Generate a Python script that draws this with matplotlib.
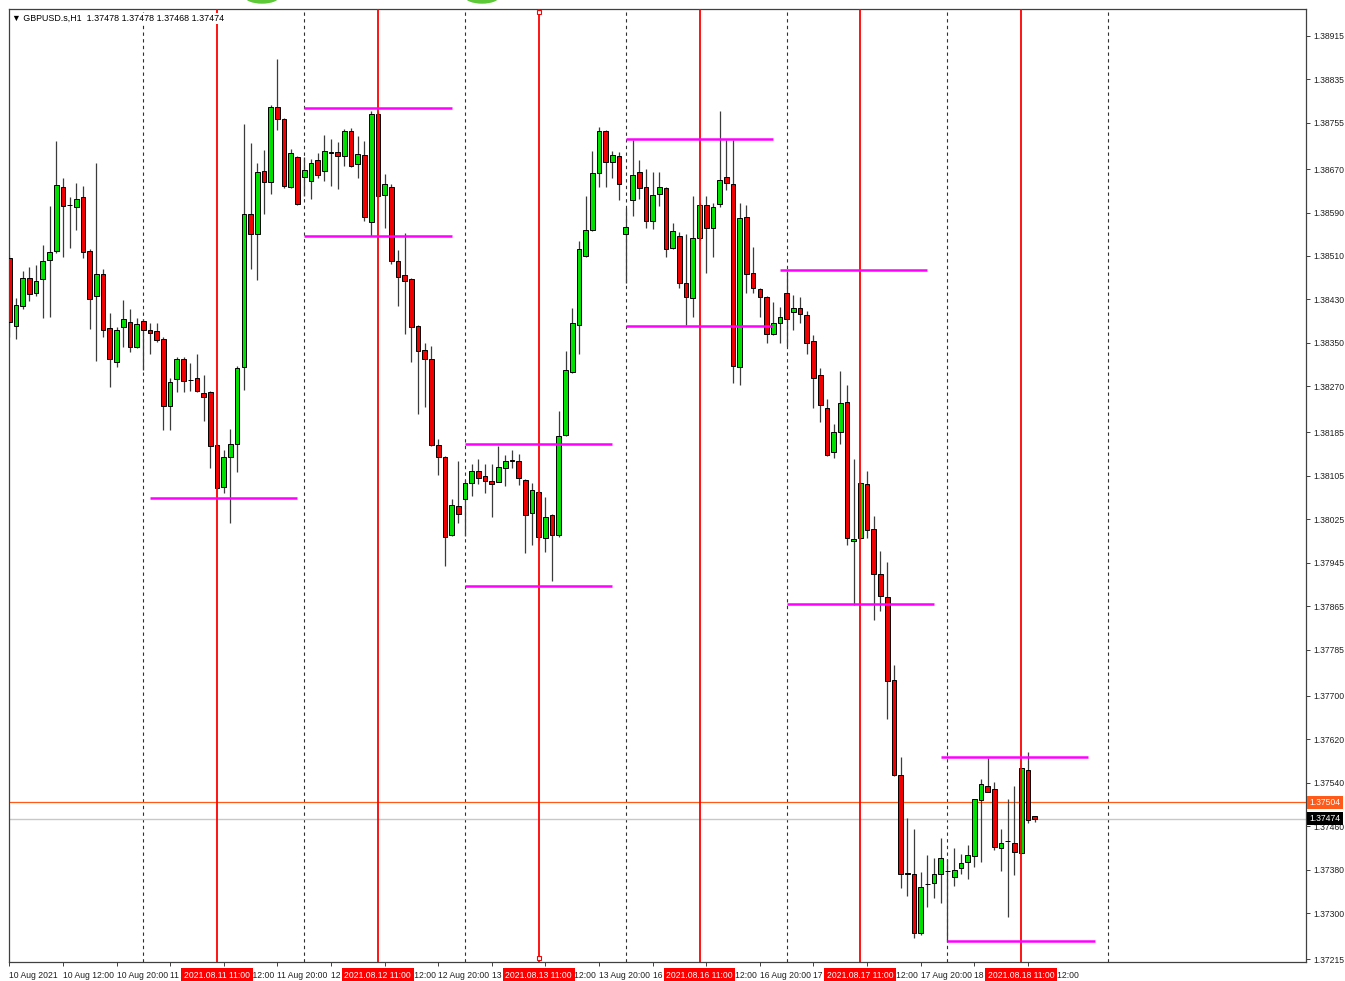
import numpy as np
import pandas as pd
import matplotlib
matplotlib.use('Agg')
import matplotlib.pyplot as plt
from matplotlib.transforms import blended_transform_factory
from matplotlib.patches import Ellipse

plt.rcParams['font.family'] = ['Liberation Sans', 'DejaVu Sans']

header = '\u25bc GBPUSD.s,H1  1.37478 1.37478 1.37468 1.37474'

# hourly bars 10 Aug 04:00 .. 18 Aug 13:00, prices in points (1e-5)
open_pts = [
    138506, 138381, 138418, 138469, 138442, 138468, 138503, 138519, 138637, 138604,
    138600, 138619, 138519, 138436, 138477, 138377, 138315, 138379, 138388, 138342,
    138390, 138374, 138372, 138357, 138234, 138284, 138320, 138282, 138285, 138258,
    138260, 138162, 138085, 138140, 138164, 138306, 138587, 138550, 138666, 138646,
    138784, 138762, 138637, 138692, 138655, 138648, 138687, 138666, 138700, 138701,
    138694, 138740, 138679, 138696, 138573, 138771, 138622, 138637, 138501, 138475,
    138468, 138381, 138337, 138320, 138162, 138140, 137996, 138050, 138063, 138092,
    138114, 138105, 138096, 138094, 138120, 138134, 138133, 138098, 138037, 138075,
    137991, 138033, 137996, 138180, 138296, 138383, 138510, 138558, 138663, 138740,
    138683, 138694, 138550, 138613, 138665, 138637, 138574, 138624, 138635, 138525,
    138547, 138460, 138433, 138543, 138604, 138562, 138606, 138655, 138643, 138306,
    138582, 138479, 138449, 138434, 138366, 138387, 138442, 138407, 138414, 138401,
    138354, 138291, 138230, 138149, 138186, 138241, 137985, 137991, 138090, 138007,
    137924, 137882, 137729, 137554, 137374, 137372, 137263, 137354, 137355, 137372,
    137378, 137367, 137383, 137394, 137405, 137508, 137534, 137529, 137420, 137433,
    137429, 137411, 137564, 137478]
high_pts = [
    138512, 138433, 138482, 138490, 138493, 138530, 138602, 138722, 138654, 138619,
    138644, 138639, 138523, 138681, 138486, 138405, 138379, 138429, 138412, 138396,
    138394, 138387, 138387, 138361, 138285, 138324, 138324, 138313, 138330, 138291,
    138261, 138164, 138153, 138191, 138307, 138753, 138718, 138681, 138705, 138788,
    138873, 138764, 138707, 138694, 138692, 138689, 138700, 138733, 138725, 138720,
    138744, 138746, 138731, 138722, 138777, 138775, 138661, 138643, 138521, 138552,
    138469, 138383, 138350, 138344, 138173, 138142, 138063, 138133, 138098, 138127,
    138136, 138127, 138127, 138160, 138144, 138153, 138145, 138099, 138092, 138077,
    138066, 138035, 138225, 138335, 138414, 138538, 138620, 138703, 138748, 138742,
    138703, 138701, 138598, 138724, 138687, 138670, 138665, 138665, 138637, 138571,
    138554, 138550, 138620, 138608, 138620, 138608, 138777, 138724, 138724, 138608,
    138604, 138527, 138451, 138436, 138425, 138416, 138482, 138438, 138434, 138409,
    138365, 138304, 138247, 138201, 138298, 138272, 138136, 138094, 138114, 138031,
    137967, 137946, 137757, 137587, 137475, 137455, 137376, 137407, 137402, 137438,
    137400, 137420, 137409, 137426, 137510, 137547, 137586, 137542, 137455, 137510,
    137534, 137567, 137597, 137478]
low_pts = [
    138361, 138357, 138412, 138427, 138436, 138396, 138398, 138516, 138508, 138525,
    138558, 138506, 138376, 138317, 138361, 138269, 138306, 138342, 138333, 138341,
    138300, 138330, 138352, 138190, 138190, 138260, 138260, 138261, 138260, 138206,
    138120, 138081, 138074, 138018, 138112, 138263, 138486, 138466, 138587, 138624,
    138742, 138635, 138635, 138604, 138620, 138615, 138654, 138648, 138639, 138633,
    138676, 138674, 138654, 138574, 138547, 138618, 138562, 138495, 138418, 138366,
    138315, 138219, 138232, 138160, 138107, 137939, 137994, 138018, 137994, 138068,
    138090, 138074, 138029, 138094, 138087, 138120, 138088, 137963, 137978, 137987,
    137965, 137912, 137993, 138179, 138295, 138330, 138508, 138556, 138637, 138637,
    138654, 138613, 138460, 138584, 138615, 138562, 138560, 138602, 138508, 138523,
    138451, 138383, 138398, 138539, 138479, 138508, 138600, 138632, 138276, 138272,
    138442, 138442, 138398, 138350, 138364, 138350, 138344, 138374, 138387, 138330,
    138230, 138204, 138142, 138138, 138164, 137978, 137867, 137989, 137991, 137840,
    137856, 137657, 137552, 137346, 137332, 137254, 137260, 137311, 137328, 137319,
    137247, 137350, 137372, 137363, 137385, 137394, 137523, 137416, 137378, 137293,
    137370, 137409, 137466, 137468]
close_pts = [
    138388, 138420, 138469, 138440, 138464, 138501, 138517, 138641, 138602, 138604,
    138615, 138517, 138431, 138477, 138374, 138320, 138374, 138394, 138342, 138385,
    138374, 138368, 138355, 138234, 138278, 138320, 138280, 138282, 138261, 138250,
    138160, 138083, 138140, 138164, 138304, 138587, 138550, 138665, 138646, 138784,
    138762, 138639, 138700, 138606, 138668, 138681, 138659, 138703, 138701, 138694,
    138740, 138676, 138698, 138582, 138771, 138620, 138643, 138501, 138471, 138464,
    138379, 138335, 138320, 138162, 138140, 137993, 138051, 138035, 138092, 138114,
    138101, 138096, 138090, 138122, 138133, 138133, 138101, 138033, 138079, 137993,
    138029, 137996, 138179, 138300, 138387, 138523, 138558, 138663, 138740, 138683,
    138696, 138643, 138563, 138659, 138635, 138574, 138622, 138637, 138523, 138556,
    138460, 138434, 138543, 138604, 138562, 138600, 138650, 138644, 138307, 138580,
    138477, 138451, 138434, 138366, 138387, 138398, 138394, 138414, 138403, 138350,
    138285, 138236, 138144, 138186, 138239, 137991, 137989, 138092, 138005, 137924,
    137884, 137727, 137554, 137372, 137373, 137263, 137348, 137353, 137372, 137402,
    137377, 137380, 137392, 137407, 137510, 137538, 137523, 137422, 137429, 137432,
    137413, 137567, 137472, 137474]

trading_days = ['2021-08-10', '2021-08-11', '2021-08-12', '2021-08-13',
                '2021-08-16', '2021-08-17', '2021-08-18']

# horizontal session levels (magenta): start bar, end bar, price
level_start = [21, 44, 44, 68, 68, 92, 92, 115, 116, 139, 140]
level_end = [43, 66, 66, 90, 90, 114, 114, 137, 138, 161, 162]
level_price = [1.38064, 1.38782, 1.38547, 1.38164, 1.37902, 1.38725,
               1.38381, 1.38484, 1.37869, 1.37587, 1.37249]

price_ticks = [1.38915, 1.38835, 1.38755, 1.38670, 1.38590, 1.38510, 1.38430,
               1.38350, 1.38270, 1.38185, 1.38105, 1.38025, 1.37945, 1.37865,
               1.37785, 1.37700, 1.37620, 1.37540, 1.37460, 1.37380, 1.37300,
               1.37215]

ask_price = 1.37504
bid_price = 1.37474

o = np.array(open_pts) / 1e5
h = np.array(high_pts) / 1e5
l = np.array(low_pts) / 1e5
c = np.array(close_pts) / 1e5
n = len(o)

times = []
for d in trading_days:
    for hr in range(24):
        times.append(pd.Timestamp(d) + pd.Timedelta(hours=hr))
times = times[4:4 + n]
x = np.arange(n)

fig = plt.figure(figsize=(13.45, 9.81), dpi=100)
ax = fig.add_axes([8.5 / 1345, 1 - 962 / 981, (1306 - 8.5) / 1345, (962 - 9) / 981])
ax.set_xlim(-0.12, 193.5)
ax.set_ylim(1.372101, 1.389647)

# day separators (dashed) and 11:00 markers (red, from 11 Aug on)
day_idx = [i for i, t in enumerate(times) if t.hour == 0] + [n + 10]
for i in day_idx:
    ax.axvline(i, color='#303030', lw=0.8, ls=(0, (3, 3)), zorder=1)
red_idx = [i for i, t in enumerate(times) if t.hour == 11 and t.day > 10]
for i in red_idx:
    ax.axvline(i, color='#ff0000', lw=1.3, zorder=4)

ax.axhline(ask_price, color='#ff5a1a', lw=0.9, zorder=1)
ax.axhline(bid_price, color='#c8c8c8', lw=1.0, zorder=1)

# candles
up = c >= o
ax.vlines(x, l, h, color='#3c3c3c', lw=0.9, zorder=2)
bot = np.minimum(o, c)
hgt = np.abs(c - o)
ax.bar(x[up], hgt[up], bottom=bot[up], width=0.7, color='#00e000',
       edgecolor='black', linewidth=0.7, zorder=3)
ax.bar(x[~up], hgt[~up], bottom=bot[~up], width=0.7, color='#f00000',
       edgecolor='black', linewidth=0.7, zorder=3)

for s, e, p in zip(level_start, level_end, level_price):
    ax.plot([s, e], [p, p], color='#ff00ff', lw=1.8, solid_capstyle='butt', zorder=5)

# selection handles on the 13 Aug line
sel = blended_transform_factory(ax.transData, ax.transAxes)
ax.plot([red_idx[2], red_idx[2]], [0.997, 0.004], ls='none', marker='s', ms=3,
        mfc='white', mec='#ff0000', mew=0.8, transform=sel, clip_on=False, zorder=6)

# axes styling
for sp in ax.spines.values():
    sp.set_color('#404040')
    sp.set_linewidth(0.9)
ax.yaxis.tick_right()
ax.set_yticks(price_ticks)
ax.set_yticklabels(['%.5f' % p for p in price_ticks])
ax.tick_params(axis='y', length=3, width=0.6, labelsize=6.2, pad=2, colors='#202020')

tick_idx = list(range(0, n, 8))
tick_lab = []
for i in tick_idx:
    if i == 0:
        tick_lab.append(times[i].strftime('%d %b %Y'))
    else:
        tick_lab.append(times[i].strftime('%d %b %H:%M'))
ax.set_xticks(tick_idx)
ax.set_xticklabels(tick_lab)
ax.tick_params(axis='x', length=3, width=0.6, labelsize=6.2, pad=3.5, colors='#202020')
for lab in ax.get_xticklabels():
    lab.set_ha('left')

# red date boxes under the 11:00 lines
for i in red_idx:
    ax.annotate(times[i].strftime('%Y.%m.%d %H:%M'), xy=(i, 0), xycoords=sel,
                xytext=(0, -6.5), textcoords='offset points', ha='center', va='top',
                fontsize=6.2, color='white', annotation_clip=False, zorder=10,
                bbox=dict(boxstyle='square,pad=0.3', fc='#ff0000', ec='none'))

# price boxes on the right axis
ytr = blended_transform_factory(ax.transAxes, ax.transData)
ax.annotate('%.5f' % ask_price, xy=(1, ask_price), xycoords=ytr, xytext=(2.5, 0),
            textcoords='offset points', ha='left', va='center', fontsize=6.2,
            color='white', annotation_clip=False, zorder=10,
            bbox=dict(boxstyle='square,pad=0.25', fc='#ff5a1a', ec='none'))
ax.annotate('%.5f' % bid_price, xy=(1, bid_price), xycoords=ytr, xytext=(2.5, 0),
            textcoords='offset points', ha='left', va='center', fontsize=6.2,
            color='white', annotation_clip=False, zorder=11,
            bbox=dict(boxstyle='square,pad=0.25', fc='black', ec='none'))

ax.text(0.003, 0.9945, header, transform=ax.transAxes, ha='left', va='top',
        fontsize=6.4, color='black', zorder=10,
        bbox=dict(boxstyle='square,pad=0.1', fc='white', ec='none'))

# partly visible green objects above the chart
top = fig.add_axes([0, 0, 1, 1], zorder=-1)
top.set_xlim(0, 1345)
top.set_ylim(981, 0)
top.axis('off')
for cx in [262, 482]:
    top.add_patch(Ellipse((cx, -4), 34, 14, color='#5cc837'))

fig.savefig('out.png', dpi=100, facecolor='white')
